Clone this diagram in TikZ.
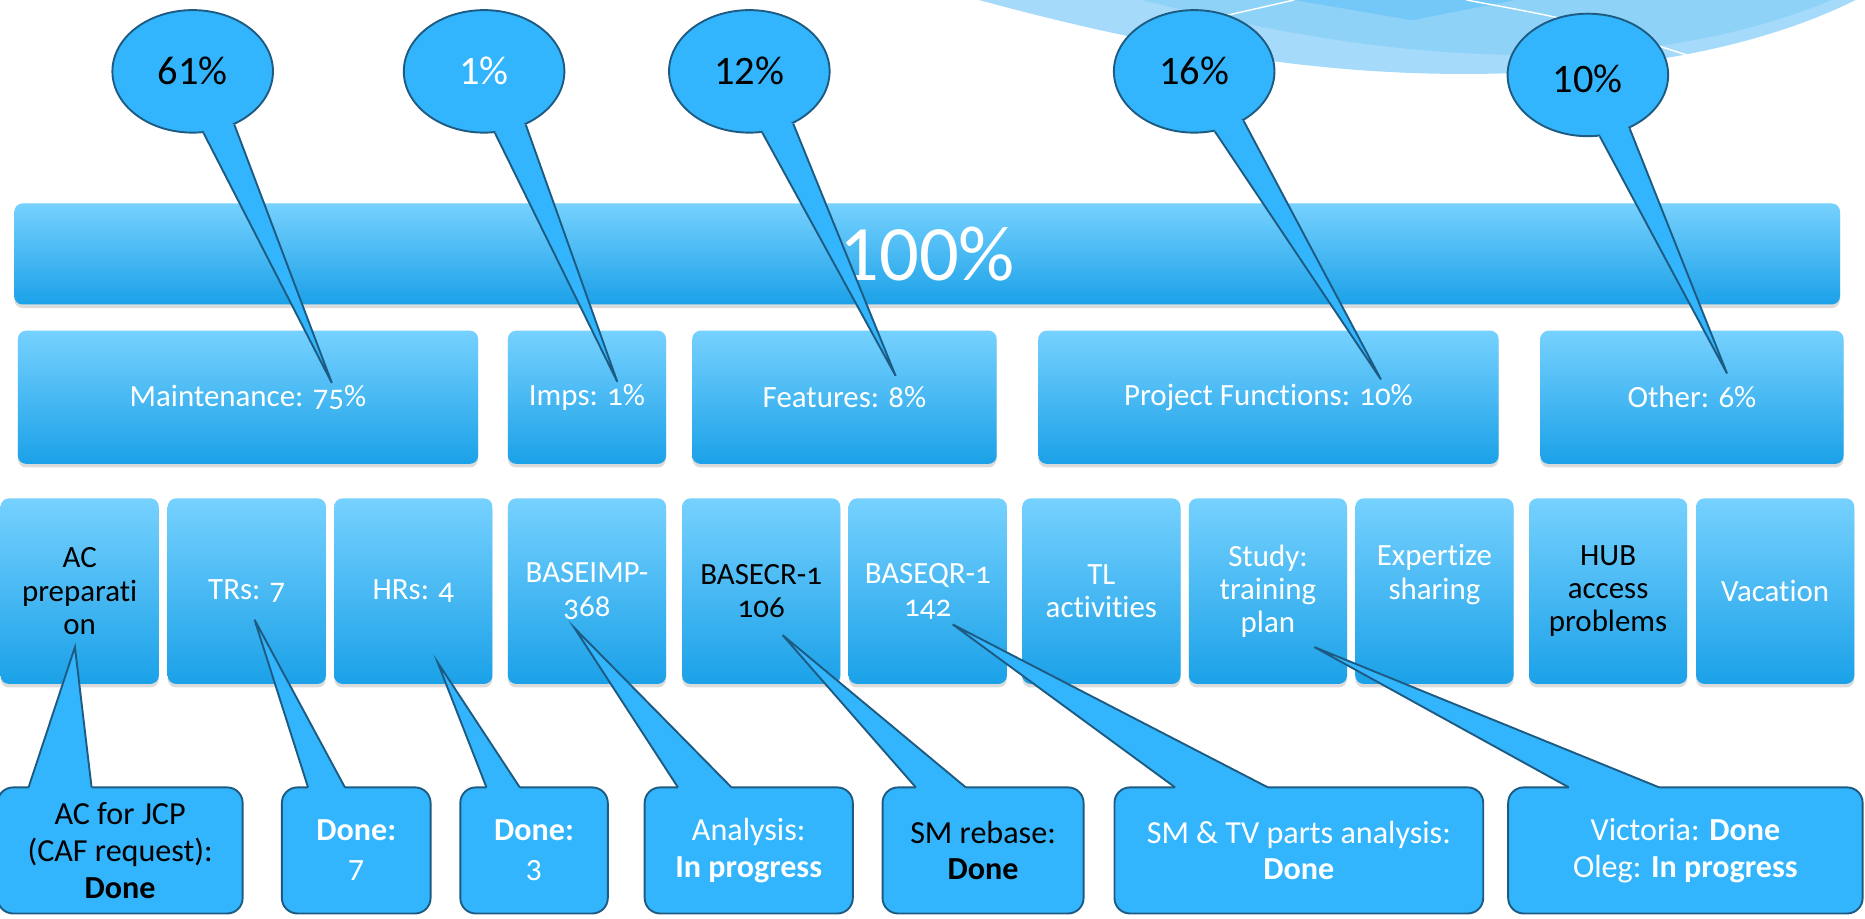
\documentclass[tikz,border=0pt]{standalone}
\usepackage{fontspec}
\setmainfont{Carlito}[Numbers=OldStyle,Ligatures=NoCommon]
\newfontfamily\lin{Carlito}
\usetikzlibrary{shapes.geometric,shadows,calc}
\definecolor{boxtop}{HTML}{76D1FE}
\definecolor{boxbot}{HTML}{1BA1E8}
\definecolor{bubfill}{HTML}{33B5FD}
\definecolor{bubline}{HTML}{1D5B82}
\definecolor{decoA}{HTML}{A5DAFA}
\definecolor{decoB}{HTML}{8ED2F8}
\definecolor{decoC}{HTML}{74C8F7}
\begin{document}
\begin{tikzpicture}[x=1pt,y=-1pt,
  box/.style={rectangle, rounded corners=7pt, top color=boxtop, bottom color=boxbot, draw=none,
    drop shadow={shadow xshift=0pt,shadow yshift=-3pt,opacity=0.28}, inner sep=0pt},
  boxtxt/.style={text=white, font=\fontsize{26}{28}\selectfont, align=center},
  lowbox/.style={box, boxtxt, minimum width=133pt, minimum height=156pt},
  midbox/.style={box, boxtxt, minimum height=112pt},
  bub/.style={ellipse, fill=bubfill, draw=bubline, line width=1.6pt, minimum width=135pt, minimum height=103pt, inner sep=0pt},
  tailline/.style={draw=bubline, line width=1.6pt, line join=miter},
  rbub/.style={rectangle, rounded corners=13pt, fill=bubfill, draw=bubline, line width=1.6pt, minimum height=106pt, inner sep=0pt},
  pct/.style={font=\lin\fontsize{34}{36}\selectfont},
  btxt/.style={font=\fontsize{27}{31}\selectfont, align=center},
]
\useasboundingbox (0,0) rectangle (1568,772);
\fill[white] (0,0) rectangle (1568,772);

% decoration top right
\fill[decoA] (823,0) .. controls (1000,48) and (1130,64) .. (1250,62) .. controls (1370,60) and (1480,40) .. (1560,0) -- cycle;
\fill[decoB] (960,0) .. controls (1080,30) and (1190,48) .. (1300,46) .. controls (1400,44) and (1480,25) .. (1540,0) -- cycle;
\fill[decoC] (1088,0) -- (1187,17) -- (1274,0) -- cycle;
\draw[white, line width=1.2pt] (1031,13) -- (1088,0);
\draw[white, line width=1.2pt] (1233,0) .. controls (1330,18) .. (1430,50);

% 100% bar
\node[box, minimum width=1535pt, minimum height=85pt, text=white, font=\lin\fontsize{66}{70}\selectfont] (all) at (779.5,213.5) {100\%};

% middle boxes
\node[midbox, minimum width=387pt] (maint) at (208.5,334) {Maintenance: 75\%};
\node[midbox, minimum width=133pt] (imps) at (493.5,334) {Imps: 1\%};
\node[midbox, minimum width=256pt] (feat) at (710,334) {Features: 8\%};
\node[midbox, minimum width=387pt] (proj) at (1066.5,334) {Project Functions: 10\%};
\node[midbox, minimum width=255pt] (other) at (1422.5,334) {Other: 6\%};

% lower boxes
\node[lowbox, text=black] (ac) at (67,497) {AC\\preparati\\on};
\node[lowbox] (trs) at (207.5,497) {TRs: 7};
\node[lowbox] (hrs) at (347.5,497) {HRs: 4};
\node[lowbox] (bimp) at (493.5,497) {BASEIMP-\\368};
\node[lowbox, text=black] (bcr) at (640,497) {BASECR-1\\106};
\node[lowbox] (bqr) at (780,497) {BASEQR-1\\142};
\node[lowbox] (tl) at (926,497) {TL\\activities};
\node[lowbox] (study) at (1066,497) {Study:\\training\\plan};
\node[lowbox] (exp) at (1206,497) {};
\node[boxtxt] (exptxt) at (1206,483) {Expertize\\sharing};
\node[lowbox, text=black] (hub) at (1352,497) {HUB\\access\\problems};
\node[lowbox] (vac) at (1492.5,497) {Vacation};

% top callouts
\foreach \n/\x/\y/\a/\b/\tx/\ty in {c61/162/60/280/308/279/322, c1/407/60/280/308/519/321, c12/630/60/282/310/753/316, c16/1004/60/289/315/1161/319, c10/1335/63/281/308/1452/314}{
  \node[bub] (\n) at (\x,\y) {};
  \coordinate (\n tip) at (\tx,\ty);
  \fill[bubfill] (\n.\a) -- (\n tip) -- (\n.\b) -- ($(\n.center)!0.7!(\n.295)$) -- cycle;
  \draw[tailline] (\n.\a) -- (\n tip) -- (\n.\b);
}
\node[pct] at (c61) {61\%};
\node[pct, text=white] at (c1) {1\%};
\node[pct] at (c12) {12\%};
\node[pct] at (c16) {16\%};
\node[pct] at ([yshift=-3pt]c10.center) {10\%};

% bottom callouts
\foreach \n/\cx/\w/\l/\r/\tx/\ty in {b1/101/206/24/77/63/544, b2/299.5/125/259/290/214/521, b3/449/124/409/437/368/557, b4/629.5/175/570/615/483/528, b5/826.5/169/770/812/658/534, b6/1092/310/988/1066/801/525, b7/1417/298/1319/1395/1105/544}{
  \node[rbub, minimum width=\w pt] (\n) at (\cx,715) {};
  \coordinate (\n tip) at (\tx,\ty);
  \fill[bubfill] (\l,662) -- (\n tip) -- (\r,662) -- (\r,670) -- (\l,670) -- cycle;
  \draw[tailline] (\l,662) -- (\n tip) -- (\r,662);
}
\node[btxt] at (b1) {AC for JCP\\(CAF request):\\\textbf{Done}};
\node[btxt, text=white] at (b2) {\textbf{Done:}\\7};
\node[btxt, text=white] at (b3) {\textbf{Done:}\\3};
\node[btxt, text=white] at (b4) {Analysis:\\\textbf{In progress}};
\node[btxt] at (b5) {SM rebase:\\\textbf{Done}};
\node[btxt, text=white] at (b6) {SM \& TV parts analysis:\\\textbf{Done}};
\node[btxt, text=white] at (b7) {Victoria: \textbf{Done}\\Oleg: \textbf{In progress}};
\end{tikzpicture}
\end{document}
